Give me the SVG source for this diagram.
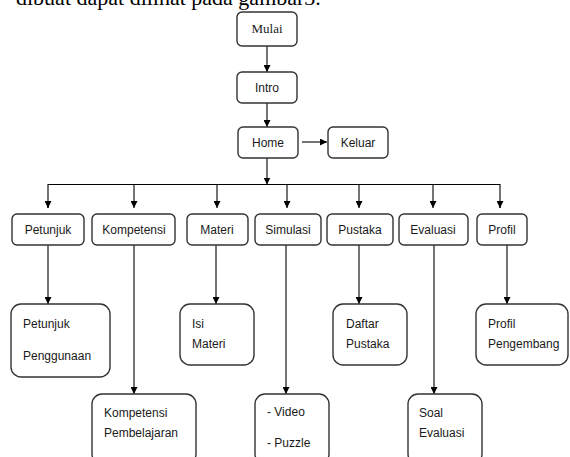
<svg xmlns="http://www.w3.org/2000/svg" width="570" height="457" viewBox="0 0 570 457">
<style>
.box{fill:#fff;stroke:#333;stroke-width:1.4}
.t{font-family:"Liberation Sans",Arial,sans-serif;font-size:12px;fill:#1a1a1a}
.c{text-anchor:middle}
.ln{stroke:#000;stroke-width:1.1;fill:none}
</style>
<defs>
<marker id="ah" viewBox="0 0 10 10" refX="10" refY="5" markerWidth="7" markerHeight="7" markerUnits="userSpaceOnUse" orient="auto">
<path d="M0,0 L10,5 L0,10 z" fill="#000"/>
</marker>
</defs>
<rect width="570" height="457" fill="#fff"/>
<text x="16" y="5" font-family="Liberation Serif,serif" font-size="22" fill="#000">dibuat dapat dilihat pada gambar3.</text>
<g id="connectors">
<line class="ln" x1="267" y1="46" x2="267" y2="72" marker-end="url(#ah)"/>
<line class="ln" x1="267" y1="103" x2="267" y2="127" marker-end="url(#ah)"/>
<line class="ln" x1="302" y1="142" x2="327" y2="142" marker-end="url(#ah)"/>
<line class="ln" x1="267" y1="158" x2="267" y2="184.5" marker-end="url(#ah)"/>
<polyline class="ln" points="48,208 48,184.5 500,184.5 500,208"/>
<line class="ln" x1="48" y1="201" x2="48" y2="208" marker-end="url(#ah)"/>
<line class="ln" x1="500" y1="201" x2="500" y2="208" marker-end="url(#ah)"/>
<line class="ln" x1="134" y1="184.5" x2="134" y2="208" marker-end="url(#ah)"/>
<line class="ln" x1="217" y1="184.5" x2="217" y2="208" marker-end="url(#ah)"/>
<line class="ln" x1="287" y1="184.5" x2="287" y2="208" marker-end="url(#ah)"/>
<line class="ln" x1="359" y1="184.5" x2="359" y2="208" marker-end="url(#ah)"/>
<line class="ln" x1="433" y1="184.5" x2="433" y2="208" marker-end="url(#ah)"/>
<line class="ln" x1="48" y1="245" x2="48" y2="304" marker-end="url(#ah)"/>
<line class="ln" x1="134" y1="245" x2="134" y2="394" marker-end="url(#ah)"/>
<line class="ln" x1="216" y1="245" x2="216" y2="304" marker-end="url(#ah)"/>
<line class="ln" x1="286" y1="245" x2="286" y2="394" marker-end="url(#ah)"/>
<line class="ln" x1="359" y1="245" x2="359" y2="304" marker-end="url(#ah)"/>
<line class="ln" x1="434" y1="245" x2="434" y2="394" marker-end="url(#ah)"/>
<line class="ln" x1="507" y1="245" x2="507" y2="304" marker-end="url(#ah)"/>
</g>
<g id="mulai"><rect class="box" x="237" y="12" width="60" height="34" rx="5"/><text x="267" y="33" text-anchor="middle" font-family="Liberation Serif,serif" font-size="13" fill="#1a1a1a">Mulai</text></g>
<g id="intro"><rect class="box" x="237" y="72" width="60" height="31" rx="5"/><text class="t c" x="267" y="92">Intro</text></g>
<g id="home"><rect class="box" x="238" y="127" width="60" height="31" rx="5"/><text class="t c" x="268" y="147">Home</text></g>
<g id="keluar"><rect class="box" x="328" y="127" width="60" height="31" rx="5"/><text class="t c" x="358" y="147">Keluar</text></g>
<g id="petunjuk"><rect class="box" x="12" y="214" width="72" height="31" rx="5"/><text class="t c" x="48" y="234">Petunjuk</text></g>
<g id="kompetensi"><rect class="box" x="92" y="214" width="83" height="31" rx="5"/><text class="t c" x="134" y="234">Kompetensi</text></g>
<g id="materi"><rect class="box" x="187" y="214" width="61" height="31" rx="5"/><text class="t c" x="217" y="234">Materi</text></g>
<g id="simulasi"><rect class="box" x="255" y="214" width="66" height="31" rx="5"/><text class="t c" x="288" y="234">Simulasi</text></g>
<g id="pustaka"><rect class="box" x="327" y="214" width="66" height="31" rx="5"/><text class="t c" x="360" y="234">Pustaka</text></g>
<g id="evaluasi"><rect class="box" x="399" y="214" width="69" height="31" rx="5"/><text class="t c" x="433" y="234">Evaluasi</text></g>
<g id="profil"><rect class="box" x="477" y="214" width="50" height="31" rx="5"/><text class="t c" x="502" y="234">Profil</text></g>
<g id="petunjuk-penggunaan"><rect class="box" x="11" y="304" width="99" height="73" rx="10"/><text class="t" x="23" y="328">Petunjuk</text><text class="t" x="23" y="360">Penggunaan</text></g>
<g id="isi-materi"><rect class="box" x="180" y="304" width="74" height="61" rx="10"/><text class="t" x="192" y="328">Isi</text><text class="t" x="192" y="348">Materi</text></g>
<g id="daftar-pustaka"><rect class="box" x="333" y="304" width="74" height="61" rx="10"/><text class="t" x="346" y="328">Daftar</text><text class="t" x="346" y="348">Pustaka</text></g>
<g id="profil-pengembang"><rect class="box" x="476" y="304" width="92" height="61" rx="10"/><text class="t" x="488" y="328">Profil</text><text class="t" x="488" y="348">Pengembang</text></g>
<g id="kompetensi-pembelajaran"><rect class="box" x="92" y="394" width="104" height="70" rx="10"/><text class="t" x="104" y="417">Kompetensi</text><text class="t" x="104" y="437">Pembelajaran</text></g>
<g id="video-puzzle"><rect class="box" x="255" y="394" width="74" height="70" rx="10"/><text class="t" x="267" y="416">- Video</text><text class="t" x="267" y="447">- Puzzle</text></g>
<g id="soal-evaluasi"><rect class="box" x="408" y="394" width="74" height="70" rx="10"/><text class="t" x="419" y="417">Soal</text><text class="t" x="419" y="437">Evaluasi</text></g>
</svg>
